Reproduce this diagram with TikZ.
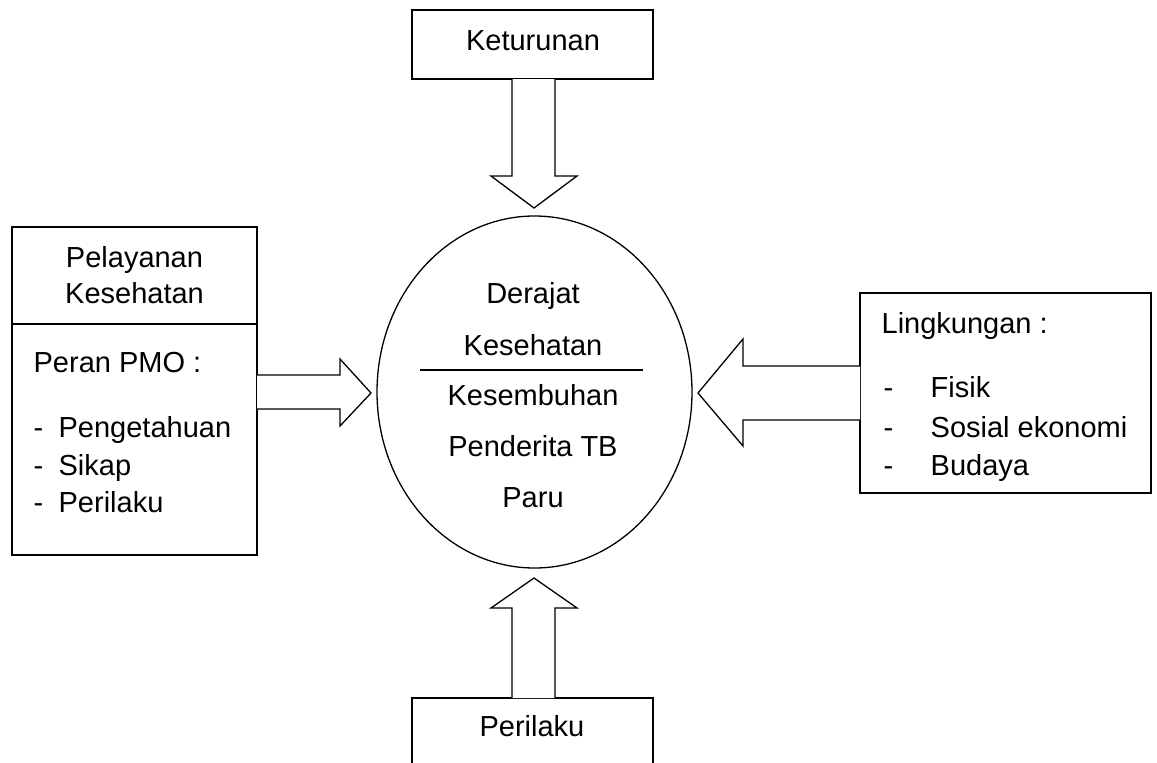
\documentclass[tikz,border=0pt]{standalone}
\usepackage{fontspec}
\setmainfont{Liberation Sans}
\usetikzlibrary{calc,shapes.geometric}
\begin{document}
\begin{tikzpicture}[x=1pt,y=-1pt,
  line width=1.3pt,
  box/.style={draw, rectangle, inner sep=0pt},
  txt/.style={inner sep=0pt, font=\fontsize{29}{34}\selectfont},
  blockarrow/.style={draw, fill=white, line join=miter}]
\useasboundingbox (0,0) rectangle (1157,763);
% boxes
\node[box, minimum width=241pt, minimum height=69pt] (ket) at (532.5,44.5) {};
\node[box, minimum width=245pt, minimum height=328pt] (pel) at (134.5,391) {};
\node[box, minimum width=291pt, minimum height=200pt] (lin) at (1005.5,393) {};
\draw (412,770) -- (412,698) coordinate (pbl) -- (653,698) coordinate (pbr) -- (653,770);
\node[draw, ellipse, minimum width=315pt, minimum height=352pt, inner sep=0pt] (el) at (534.5,392) {};
% divider lines
\draw (pel.west |- 0,324) -- (pel.east |- 0,324);
\draw (420,370) -- (643,370);
% texts
\node[txt, anchor=base] (t1) at (533,50) {Keturunan};
\node[txt, anchor=base] (t2) at (532,736) {Perilaku};
\node[txt, anchor=base] (t3) at (134.5,267) {Pelayanan};
\node[txt, anchor=base] (t4) at (134.5,303) {Kesehatan};
\node[txt, anchor=base west] (t5) at (33,372) {Peran PMO :};
\node[txt, anchor=base west] (d1) at (33,437) {-};
\node[txt, anchor=base west] (i1) at (58,437) {Pengetahuan};
\node[txt, anchor=base west] (d2) at (33,475) {-};
\node[txt, anchor=base west] (i2) at (58,475) {Sikap};
\node[txt, anchor=base west] (d3) at (33,512) {-};
\node[txt, anchor=base west] (i3) at (58,512) {Perilaku};
\node[txt, anchor=base] (e1) at (533,303) {Derajat};
\node[txt, anchor=base] (e2) at (533,355) {Kesehatan};
\node[txt, anchor=base] (e3) at (533,405) {Kesembuhan};
\node[txt, anchor=base] (e4) at (533,456) {Penderita TB};
\node[txt, anchor=base] (e5) at (533,507) {Paru};
\node[txt, anchor=base west] (r0) at (881,333) {Lingkungan :};
\node[txt, anchor=base west] (rd1) at (883,397) {-};
\node[txt, anchor=base west] (r1) at (930,397) {Fisik};
\node[txt, anchor=base west] (rd2) at (883,437) {-};
\node[txt, anchor=base west] (r2) at (930,437) {Sosial ekonomi};
\node[txt, anchor=base west] (rd3) at (883,475) {-};
\node[txt, anchor=base west] (r3) at (930,475) {Budaya};
% block arrows
\draw[blockarrow] (512,79) -- (512,176) -- (491,176) -- (534,208) -- (577,176) -- (555,176) -- (555,79);
\draw[blockarrow] (512,698) -- (512,608) -- (491,608) -- (534,578) -- (577,608) -- (555,608) -- (555,698);
\draw[blockarrow] (257,375) -- (340,375) -- (340,359) -- (371,393) -- (340,426) -- (340,409) -- (257,409);
\draw[blockarrow] (860,366) -- (743,366) -- (743,339) -- (698,393) -- (743,446) -- (743,420) -- (860,420);
\end{tikzpicture}
\end{document}
